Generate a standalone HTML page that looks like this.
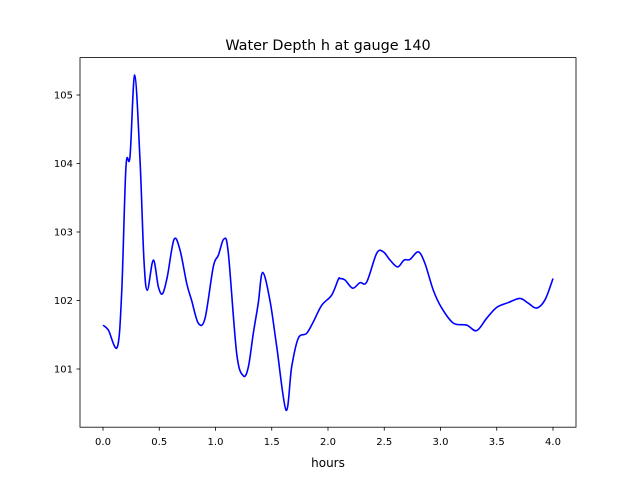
<!DOCTYPE html>
<html><head><meta charset="utf-8"><style>
body{margin:0;background:#fff;}
svg text{font-family:"DejaVu Sans","Liberation Sans",sans-serif;fill:#000;}
</style></head><body>
<svg width="640" height="480" xmlns="http://www.w3.org/2000/svg">
<rect width="640" height="480" fill="#fff"/>
<text x="328" y="50" font-size="14.4" text-anchor="middle">Water Depth h at gauge 140</text>
<g id="ticks"></g>
<path id="line" fill="none" stroke="#0000ff" stroke-width="1.6" stroke-linejoin="round"/>
<rect x="80" y="57.6" width="496" height="369.6" fill="none" stroke="#000" stroke-width="0.8"/>
<text x="328" y="467" font-size="12" text-anchor="middle">hours</text>
</svg>
<script>
const times=[0,0.047,0.127,0.166,0.204,0.24,0.282,0.329,0.364,0.394,0.447,0.492,0.53,0.572,0.631,0.684,0.744,0.788,0.847,0.907,0.98,1.025,1.076,1.114,1.188,1.248,1.292,1.336,1.38,1.419,1.484,1.544,1.627,1.677,1.736,1.81,1.87,1.944,2.033,2.092,2.107,2.151,2.219,2.284,2.344,2.433,2.492,2.551,2.619,2.676,2.729,2.803,2.862,2.936,3.011,3.114,3.233,3.321,3.41,3.5,3.603,3.707,3.78,3.855,3.929,4.0];
const depths=[101.64,101.57,101.32,102.11,103.95,104.1,105.29,104.05,102.59,102.15,102.59,102.2,102.1,102.35,102.89,102.74,102.25,102.0,101.67,101.74,102.49,102.66,102.9,102.69,101.23,100.9,101.03,101.52,101.96,102.41,102.0,101.33,100.4,101.03,101.45,101.52,101.69,101.93,102.08,102.31,102.32,102.3,102.18,102.26,102.27,102.69,102.71,102.59,102.49,102.59,102.6,102.71,102.54,102.15,101.89,101.67,101.64,101.56,101.74,101.9,101.97,102.03,101.96,101.89,102.01,102.32];
const xTicks=[0,0.5,1.0,1.5,2.0,2.5,3.0,3.5,4.0];
const xTickLabels=["0.0","0.5","1.0","1.5","2.0","2.5","3.0","3.5","4.0"];
const yTicks=[101,102,103,104,105];
const yTickLabels=["101","102","103","104","105"];
const NS="http://www.w3.org/2000/svg";
function sx(v){return 103+v*112.5;}
function sy(v){return 95+(105-v)*68.5;}
const g=document.getElementById('ticks');
xTicks.forEach((t,i)=>{
  const l=document.createElementNS(NS,'line');
  l.setAttribute('x1',sx(t));l.setAttribute('x2',sx(t));l.setAttribute('y1',427.2);l.setAttribute('y2',430.7);l.setAttribute('stroke','#000');l.setAttribute('stroke-width','0.8');
  
  
  g.appendChild(l);
  const tx=document.createElementNS(NS,'text');
  tx.setAttribute('x',sx(t));tx.setAttribute('y',445);tx.setAttribute('font-size','10');tx.setAttribute('text-anchor','middle');
  tx.textContent=xTickLabels[i];
  
  
  g.appendChild(tx);
});
yTicks.forEach((t,i)=>{
  const l=document.createElementNS(NS,'line');
  l.setAttribute('x1',76.5);l.setAttribute('x2',80);l.setAttribute('y1',sy(t));l.setAttribute('y2',sy(t));l.setAttribute('stroke','#000');l.setAttribute('stroke-width','0.8');
  
  
  g.appendChild(l);
  const tx=document.createElementNS(NS,'text');
  tx.setAttribute('x',73);tx.setAttribute('y',sy(t)+3.6);tx.setAttribute('font-size','10');tx.setAttribute('text-anchor','end');
  tx.textContent=yTickLabels[i];
  
  
  g.appendChild(tx);
});
const P=times.map((t,i)=>[sx(t),sy(depths[i])]);
let d='M'+P[0][0].toFixed(2)+','+P[0][1].toFixed(2);
for(let i=0;i<P.length-1;i++){
  const p0=P[Math.max(i-1,0)],p1=P[i],p2=P[i+1],p3=P[Math.min(i+2,P.length-1)];
  const c1=[p1[0]+(p2[0]-p0[0])/6,p1[1]+(p2[1]-p0[1])/6];
  const c2=[p2[0]-(p3[0]-p1[0])/6,p2[1]-(p3[1]-p1[1])/6];
  d+=' C'+c1[0].toFixed(2)+','+c1[1].toFixed(2)+' '+c2[0].toFixed(2)+','+c2[1].toFixed(2)+' '+p2[0].toFixed(2)+','+p2[1].toFixed(2);
}
document.getElementById('line').setAttribute('d',d);
</script>
</body></html>
